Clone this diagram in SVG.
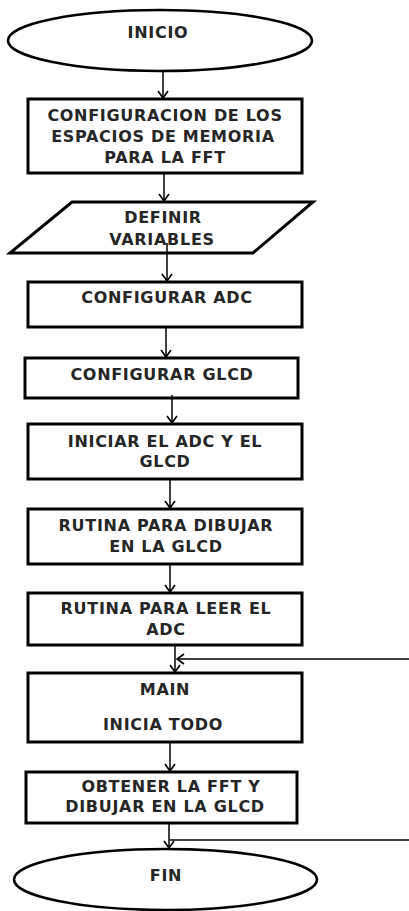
<svg xmlns="http://www.w3.org/2000/svg" width="409" height="911" viewBox="0 0 409 911">
<style>
.shape{fill:#fff;stroke:#000;stroke-width:3}
.term{fill:#fff;stroke:#000;stroke-width:2.6}
.t{font-family:"DejaVu Sans",Verdana,sans-serif;font-weight:bold;font-size:16px;letter-spacing:0.7px;fill:#262626;text-anchor:middle}
.c{fill:none;stroke:#000;stroke-width:1.5}
</style>
<defs>
<marker id="ah" viewBox="0 0 12 12" refX="11" refY="6" markerWidth="12" markerHeight="12" markerUnits="userSpaceOnUse" orient="auto">
<path d="M4,1 L11,6 L4,11" fill="none" stroke="#000" stroke-width="1.6"/>
</marker>
</defs>
<rect width="409" height="911" fill="#fff"/>
<g id="inicio">
<ellipse class="term" cx="160" cy="40.5" rx="152" ry="30.5"/>
<text class="t" x="158" y="38">INICIO</text>
</g>
<g id="config-memoria">
<rect class="shape" x="28" y="99" width="274" height="74"/>
<text class="t" x="165" y="121">CONFIGURACION DE LOS</text>
<text class="t" x="163" y="142">ESPACIOS DE MEMORIA</text>
<text class="t" x="165" y="163">PARA LA FFT</text>
</g>
<g id="definir">
<polygon class="shape" points="72,202 313,202 253,253 10,253"/>
<text class="t" x="163" y="223">DEFINIR</text>
<text class="t" x="162" y="245">VARIABLES</text>
</g>
<g id="config-adc">
<rect class="shape" x="28" y="282" width="274" height="45"/>
<text class="t" x="167" y="303">CONFIGURAR ADC</text>
</g>
<g id="config-glcd">
<rect class="shape" x="25" y="358" width="273" height="40"/>
<text class="t" x="162" y="380">CONFIGURAR GLCD</text>
</g>
<g id="iniciar">
<rect class="shape" x="28" y="424" width="274" height="55"/>
<text class="t" x="165" y="446.5">INICIAR EL ADC Y EL</text>
<text class="t" x="165" y="467">GLCD</text>
</g>
<g id="rutina-dibujar">
<rect class="shape" x="28" y="509" width="274" height="55"/>
<text class="t" x="166" y="531">RUTINA PARA DIBUJAR</text>
<text class="t" x="166" y="552">EN LA GLCD</text>
</g>
<g id="rutina-leer">
<rect class="shape" x="28" y="593" width="274" height="52"/>
<text class="t" x="166" y="614">RUTINA PARA LEER EL</text>
<text class="t" x="166" y="635">ADC</text>
</g>
<g id="main">
<rect class="shape" x="28" y="673" width="274" height="69"/>
<text class="t" x="165" y="695">MAIN</text>
<text class="t" x="163" y="730">INICIA TODO</text>
</g>
<g id="obtener">
<rect class="shape" x="26" y="772" width="271" height="51"/>
<text class="t" x="171" y="792">OBTENER LA FFT Y</text>
<text class="t" x="165" y="812">DIBUJAR EN LA GLCD</text>
</g>
<g id="fin">
<ellipse class="term" cx="165.5" cy="879.5" rx="151.5" ry="30.5"/>
<text class="t" x="166" y="881">FIN</text>
</g>
<g id="connectors">
<line class="c" x1="163" y1="72" x2="163" y2="98" marker-end="url(#ah)"/>
<line class="c" x1="164" y1="174" x2="164" y2="201" marker-end="url(#ah)"/>
<line class="c" x1="167" y1="243" x2="167" y2="281" marker-end="url(#ah)"/>
<line class="c" x1="166" y1="328" x2="166" y2="357" marker-end="url(#ah)"/>
<line class="c" x1="172" y1="395" x2="172" y2="423" marker-end="url(#ah)"/>
<line class="c" x1="170" y1="480" x2="170" y2="508" marker-end="url(#ah)"/>
<line class="c" x1="170" y1="565" x2="170" y2="592" marker-end="url(#ah)"/>
<line class="c" x1="175" y1="646" x2="175" y2="672" marker-end="url(#ah)"/>
<line class="c" x1="409" y1="659" x2="177" y2="659" marker-end="url(#ah)"/>
<line class="c" x1="170" y1="743" x2="170" y2="771" marker-end="url(#ah)"/>
<line class="c" x1="169" y1="824" x2="169" y2="848" marker-end="url(#ah)"/>
<line class="c" x1="409" y1="840" x2="170" y2="840"/>
</g>
</svg>
